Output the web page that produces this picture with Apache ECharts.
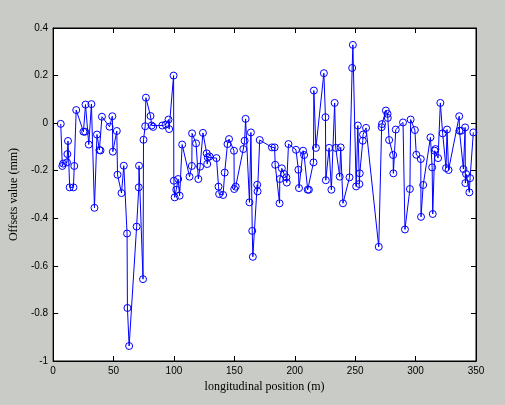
<!DOCTYPE html>
<html>
<head>
<meta charset="utf-8">
<script src="https://cdn.jsdelivr.net/npm/echarts@6/dist/echarts.min.js"></script>
<style>
html,body{margin:0;padding:0;background:#c9ccc6;}
#c{width:505px;height:405px;}
</style>
</head>
<body>
<div id="c"></div>
<script>
const positions = [6.3,7.6,8.3,11.5,11.8,12.3,13.7,16.8,17.5,19.1,25.1,26.5,26.8,29.5,31.7,34.2,36.3,38.3,39.2,40.4,46.7,49.0,49.4,52.7,53.3,56.6,58.5,61.2,61.5,62.9,69.1,70.9,71.1,74.4,74.8,76.2,76.8,80.6,81.5,82.8,90.4,93.2,95.5,96.0,99.7,99.9,100.6,101.9,103.5,104.7,106.8,112.9,114.8,115.0,118.3,120.2,121.6,124.0,127.1,127.5,128.0,129.5,135.2,136.9,137.4,140.7,142.0,144.3,145.6,149.7,149.9,151.1,157.4,158.5,159.3,162.5,163.7,164.8,165.3,168.9,169.2,171.0,181.1,183.3,183.8,187.4,187.6,189.3,191.2,193.0,193.4,194.8,201.0,203.0,203.5,206.9,207.7,210.7,211.7,215.5,215.8,217.5,224.1,225.4,225.7,228.4,230.3,233.0,233.9,237.2,238.0,239.9,245.3,247.5,248.1,250.8,252.2,253.5,253.8,256.3,256.5,259.0,269.5,271.9,272.2,275.4,276.8,277.0,278.1,281.4,281.6,283.6,289.6,291.2,295.3,295.9,299.4,300.6,304.3,304.5,306.3,312.3,313.7,314.2,315.8,316.4,318.6,320.5,322.4,325.2,326.0,327.3,336.1,336.3,337.7,339.6,341.0,341.2,341.8,344.5,345.1,347.8];
const offsets = [-0.003,-0.18,-0.17,-0.165,-0.13,-0.075,-0.27,-0.27,-0.18,0.055,-0.036,-0.036,0.078,-0.09,0.08,-0.356,-0.048,-0.113,-0.115,0.027,-0.015,0.029,-0.12,-0.033,-0.217,-0.294,-0.179,-0.464,-0.777,-0.937,-0.435,-0.27,-0.179,-0.656,-0.07,-0.013,0.107,0.03,-0.01,-0.016,-0.01,-0.006,0.015,-0.025,0.2,-0.242,-0.312,-0.28,-0.235,-0.305,-0.09,-0.225,-0.18,-0.043,-0.085,-0.235,-0.183,-0.041,-0.127,-0.172,-0.144,-0.14,-0.147,-0.267,-0.298,-0.302,-0.208,-0.088,-0.067,-0.116,-0.277,-0.267,-0.109,-0.074,0.018,-0.333,-0.039,-0.453,-0.562,-0.259,-0.287,-0.071,-0.102,-0.102,-0.175,-0.337,-0.235,-0.19,-0.214,-0.228,-0.25,-0.088,-0.112,-0.196,-0.273,-0.116,-0.134,-0.28,-0.28,-0.165,0.137,-0.104,0.21,0.025,-0.24,-0.104,-0.28,0.085,-0.104,-0.225,-0.102,-0.337,-0.228,0.232,0.329,-0.266,-0.01,-0.256,-0.211,-0.074,-0.048,-0.02,-0.52,-0.017,-0.004,0.053,0.039,0.022,-0.071,-0.134,-0.211,-0.027,0.003,-0.447,-0.277,0.015,-0.029,-0.133,-0.151,-0.394,-0.26,-0.06,-0.186,-0.382,-0.116,-0.109,-0.147,0.085,-0.043,-0.189,-0.027,-0.197,0.029,-0.032,-0.032,-0.193,-0.018,-0.252,-0.214,-0.291,-0.231,-0.039];
const xTicks = [0,50,100,150,200,250,300,350];
const yTicks = [-1,-0.8,-0.6,-0.4,-0.2,0,0.2,0.4];
const xTitle = 'longitudinal position (m)';
const yTitle = 'Offsets value (mm)';

const chart = echarts.init(document.getElementById('c'), null, {renderer:'canvas'});
const tickFont = {fontFamily:'Liberation Sans, Arial, sans-serif', fontSize:10, color:'#000'};
const titleFont = {fontFamily:'Liberation Serif, Times New Roman, serif', fontSize:12, color:'#000'};
const xMin = xTicks[0], xMax = xTicks[xTicks.length-1];
const yMin = yTicks[0], yMax = yTicks[yTicks.length-1];
const xInt = xTicks[1]-xTicks[0], yInt = 0.2;
const lineStyle = {color:'#000', width:1};
chart.setOption({
  backgroundColor:'#c9ccc6',
  animation:false,
  grid:{left:49, top:28, width:427, height:333, backgroundColor:'#fff', show:true, borderColor:'#000', borderWidth:1},
  xAxis:[
    {type:'value', min:xMin, max:xMax, interval:xInt, position:'bottom',
     name:xTitle, nameLocation:'middle', nameGap:17, nameTextStyle:titleFont,
     axisLine:{show:true, onZero:false, lineStyle}, axisTick:{show:true, inside:true, length:5, lineStyle},
     axisLabel:Object.assign({margin:5}, tickFont), splitLine:{show:false}},
    {type:'value', min:xMin, max:xMax, interval:xInt, position:'top',
     axisLine:{show:true, onZero:false, lineStyle}, axisTick:{show:true, inside:true, length:5, lineStyle},
     axisLabel:{show:false}, splitLine:{show:false}}
  ],
  yAxis:[
    {type:'value', min:yMin, max:yMax, interval:yInt, position:'left',
     name:yTitle, nameLocation:'middle', nameGap:24, nameTextStyle:titleFont,
     axisLine:{show:true, onZero:false, lineStyle}, axisTick:{show:true, inside:true, length:5, lineStyle},
     axisLabel:Object.assign({margin:5, formatter:v=>String(+v.toFixed(1))}, tickFont), splitLine:{show:false}},
    {type:'value', min:yMin, max:yMax, interval:yInt, position:'right',
     axisLine:{show:true, onZero:false, lineStyle}, axisTick:{show:true, inside:true, length:5, lineStyle},
     axisLabel:{show:false}, splitLine:{show:false}}
  ],
  series:[{
    type:'line', xAxisIndex:0, yAxisIndex:0,
    data: positions.map((p,i)=>[p, offsets[i]]),
    symbol:'circle', symbolSize:7, showAllSymbol:true,
    lineStyle:{color:'#0000ff', width:1},
    itemStyle:{color:'rgba(0,0,0,0)', borderColor:'#0000ff', borderWidth:1},
    emphasis:{disabled:true}
  }]
});
</script>
</body>
</html>
